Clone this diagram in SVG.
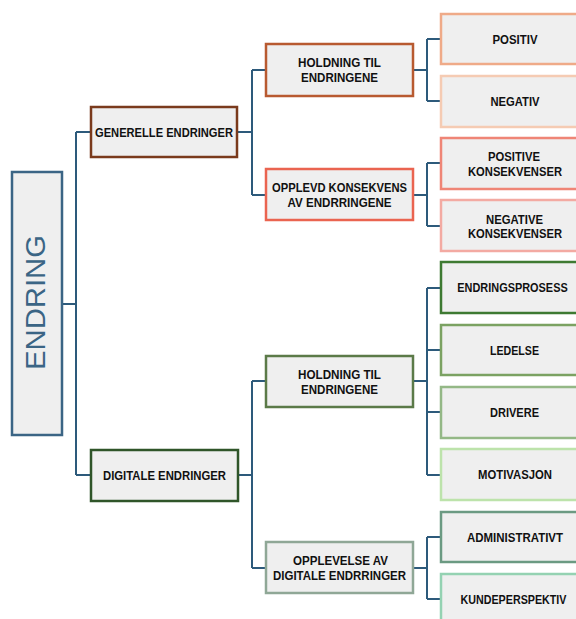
<svg xmlns="http://www.w3.org/2000/svg" width="576" height="619" viewBox="0 0 576 619">
<style>
.b{fill:#efefef;stroke-width:2.5}
.t{font-family:"Liberation Sans",Arial,sans-serif;font-weight:bold;font-size:13px;fill:#111;text-anchor:middle}
.c{fill:none;stroke:#2d5a7b;stroke-width:2}
</style>
<rect width="576" height="619" fill="#fff"/>
<g id="connectors">
<path class="c" d="M62 304H76M76 132V475M76 132H91M76 475H91"/>
<path class="c" d="M237 132H252M252 70V195M252 70H266M252 195H266"/>
<path class="c" d="M413 70H427M427 39V101M427 39H441M427 101H441"/>
<path class="c" d="M413 195H427M427 163V226M427 163H441M427 226H441"/>
<path class="c" d="M238 475H252M252 381V568M252 381H266M252 568H266"/>
<path class="c" d="M413 381H427M427 288V475M427 288H441M427 350H441M427 412H441M427 475H441"/>
<path class="c" d="M413 568H427M427 537V599M427 537H441M427 599H441"/>
</g>
<g id="endring">
<rect class="b" x="12" y="172" width="50" height="263" stroke="#3b6585"/>
<text transform="translate(45,302.5) rotate(-90)" font-family="Liberation Sans,Arial,sans-serif" font-size="28" fill="#3b6585" text-anchor="middle" textLength="135" lengthAdjust="spacingAndGlyphs">ENDRING</text>
</g>
<g id="generelle">
<rect class="b" x="91" y="107" width="146" height="50" stroke="#7a3a1c"/>
<text class="t" x="164" y="137" textLength="138" lengthAdjust="spacingAndGlyphs">GENERELLE ENDRINGER</text>
</g>
<g id="digitale">
<rect class="b" x="91" y="450" width="147" height="51" stroke="#2f5529"/>
<text class="t" x="164.5" y="480" textLength="123" lengthAdjust="spacingAndGlyphs">DIGITALE ENDRINGER</text>
</g>
<g id="holdning1">
<rect class="b" x="266" y="44" width="147" height="52" stroke="#b85a30"/>
<text class="t" x="339.5" y="67" textLength="83" lengthAdjust="spacingAndGlyphs">HOLDNING TIL</text>
<text class="t" x="339.5" y="82" textLength="77" lengthAdjust="spacingAndGlyphs">ENDRINGENE</text>
</g>
<g id="opplevd">
<rect class="b" x="266" y="169" width="147" height="51" stroke="#ea6450"/>
<text class="t" x="339.5" y="192" textLength="135" lengthAdjust="spacingAndGlyphs">OPPLEVD KONSEKVENS</text>
<text class="t" x="339.5" y="207" textLength="104" lengthAdjust="spacingAndGlyphs">AV ENDRRINGENE</text>
</g>
<g id="positiv">
<rect class="b" x="441" y="14" width="137" height="50" stroke="#efaa88"/>
<text class="t" x="515" y="44" textLength="45" lengthAdjust="spacingAndGlyphs">POSITIV</text>
</g>
<g id="negativ">
<rect class="b" x="441" y="76" width="137" height="51" stroke="#f5cbb3"/>
<text class="t" x="515" y="106" textLength="49" lengthAdjust="spacingAndGlyphs">NEGATIV</text>
</g>
<g id="poskons">
<rect class="b" x="441" y="138" width="137" height="51" stroke="#ef8576"/>
<text class="t" x="514" y="161" textLength="52" lengthAdjust="spacingAndGlyphs">POSITIVE</text>
<text class="t" x="515" y="176" textLength="94" lengthAdjust="spacingAndGlyphs">KONSEKVENSER</text>
</g>
<g id="negkons">
<rect class="b" x="441" y="200" width="137" height="51" stroke="#f3aaa2"/>
<text class="t" x="514.5" y="224" textLength="57" lengthAdjust="spacingAndGlyphs">NEGATIVE</text>
<text class="t" x="515" y="238" textLength="94" lengthAdjust="spacingAndGlyphs">KONSEKVENSER</text>
</g>
<g id="holdning2">
<rect class="b" x="266" y="356" width="147" height="51" stroke="#5b7a48"/>
<text class="t" x="339.5" y="379" textLength="83" lengthAdjust="spacingAndGlyphs">HOLDNING TIL</text>
<text class="t" x="339.5" y="394" textLength="77" lengthAdjust="spacingAndGlyphs">ENDRINGENE</text>
</g>
<g id="opplevelse">
<rect class="b" x="266" y="542" width="147" height="51" stroke="#8fa796"/>
<text class="t" x="340.5" y="565" textLength="95" lengthAdjust="spacingAndGlyphs">OPPLEVELSE AV</text>
<text class="t" x="339.5" y="580" textLength="133" lengthAdjust="spacingAndGlyphs">DIGITALE ENDRRINGER</text>
</g>
<g id="endringsprosess">
<rect class="b" x="441" y="262" width="137" height="51" stroke="#3e7a32"/>
<text class="t" transform="translate(512.5,292) scale(0.84,1)">ENDRINGSPROSESS</text>
</g>
<g id="ledelse">
<rect class="b" x="441" y="325" width="137" height="50" stroke="#7ba262"/>
<text class="t" x="514.5" y="355" textLength="49" lengthAdjust="spacingAndGlyphs">LEDELSE</text>
</g>
<g id="drivere">
<rect class="b" x="441" y="387" width="137" height="51" stroke="#94b886"/>
<text class="t" x="514.5" y="417" textLength="49" lengthAdjust="spacingAndGlyphs">DRIVERE</text>
</g>
<g id="motivasjon">
<rect class="b" x="441" y="449" width="137" height="51" stroke="#bde3ab"/>
<text class="t" x="515" y="479" textLength="74" lengthAdjust="spacingAndGlyphs">MOTIVASJON</text>
</g>
<g id="administrativt">
<rect class="b" x="441" y="512" width="137" height="50" stroke="#6b9a82"/>
<text class="t" x="515" y="542" textLength="96" lengthAdjust="spacingAndGlyphs">ADMINISTRATIVT</text>
</g>
<g id="kundeperspektiv">
<rect class="b" x="441" y="574" width="137" height="51" stroke="#94d2b2"/>
<text class="t" transform="translate(513.5,604) scale(0.825,1)">KUNDEPERSPEKTIV</text>
</g>
</svg>
